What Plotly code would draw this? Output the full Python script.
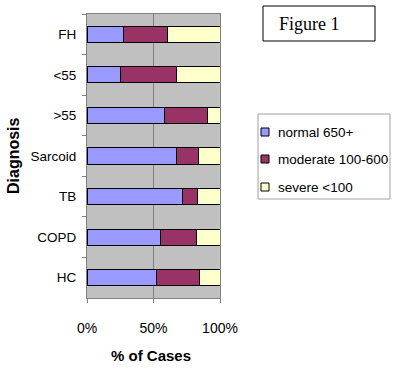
import plotly.graph_objects as go

categories = ["FH", "<55", ">55", "Sarcoid", "TB", "COPD", "HC"]
normal = [27.5, 25.5, 58.0, 67.2, 71.5, 55.0, 52.2]
moderate = [32.7, 42.0, 32.5, 16.5, 11.5, 27.2, 32.3]
severe = [39.8, 32.5, 9.5, 16.3, 17.0, 17.8, 15.5]
series_names = ["normal 650+", "moderate 100-600", "severe <100"]
colors = ["#9999FF", "#993366", "#FFFFCC"]
x_ticks = [0, 50, 100]
x_tick_labels = ["0%", "50%", "100%"]

FONT = "Liberation Sans, Arial, sans-serif"

fig = go.Figure()
for name, vals, col in zip(series_names, [normal, moderate, severe], colors):
    fig.add_trace(go.Bar(
        y=categories, x=vals, name=name, orientation="h",
        marker=dict(color=col, line=dict(color="#000000", width=1)),
        showlegend=False,
    ))

W, H = 400, 371
L, R, T, B = 87, 180, 14, 73
pw = W - L - R
ph = H - T - B

def px_x(p):
    return (p - L) / pw

def px_y(p):
    return 1 - (p - T) / ph

shapes = [
    dict(type="rect", xref="paper", yref="paper",
         x0=px_x(263), x1=px_x(375), y0=px_y(41), y1=px_y(6),
         line=dict(color="black", width=1), fillcolor="white"),
    dict(type="rect", xref="paper", yref="paper",
         x0=px_x(258), x1=px_x(390), y0=px_y(199), y1=px_y(114),
         line=dict(color="#A0A0A0", width=1), fillcolor="white"),
]
annotations = [
    dict(text="Figure 1", xref="paper", yref="paper",
         x=px_x(277), y=px_y(24), xanchor="left", yanchor="middle",
         showarrow=False, font=dict(family="Liberation Serif, Times New Roman, serif", size=18)),
    dict(text="<b>% of Cases</b>", xref="paper", yref="paper",
         x=px_x(151), y=px_y(355), xanchor="center", yanchor="middle",
         showarrow=False, font=dict(family=FONT, size=15)),
    dict(text="<b>Diagnosis</b>", xref="paper", yref="paper",
         x=px_x(13), y=px_y(156), xanchor="center", yanchor="middle",
         textangle=-90, showarrow=False, font=dict(family=FONT, size=16)),
]

# legend (drawn by hand to match the original's compact layout)
leg_y = [132, 159, 187]
for name, col, yy in zip(series_names, colors, leg_y):
    shapes.append(dict(type="rect", xref="paper", yref="paper",
                       x0=px_x(261), x1=px_x(269), y0=px_y(yy + 4), y1=px_y(yy - 4),
                       line=dict(color="black", width=1), fillcolor=col))
    annotations.append(dict(text=name, xref="paper", yref="paper",
                            x=px_x(276), y=px_y(yy), xanchor="left", yanchor="middle",
                            showarrow=False, font=dict(family=FONT, size=13.5)))

fig.update_layout(
    width=W, height=H,
    margin=dict(l=L, r=R, t=T, b=B, pad=0),
    barmode="stack", bargap=0.6,
    paper_bgcolor="white", plot_bgcolor="#C0C0C0",
    font=dict(family=FONT, size=13, color="black"),
    showlegend=False,
    xaxis=dict(
        range=[0, 100], tickvals=x_ticks, ticktext=x_tick_labels,
        showgrid=True, gridcolor="#808080", gridwidth=1,
        showline=True, linecolor="#808080", mirror=True,
        ticks="outside", ticklen=4, tickcolor="#808080",
        ticklabelstandoff=13, zeroline=False, automargin=False,
        tickfont=dict(family=FONT, size=14),
    ),
    yaxis=dict(
        autorange="reversed", showgrid=False,
        showline=True, linecolor="#808080", mirror=True,
        ticks="outside", ticklen=4, tickcolor="#808080",
        tickson="boundaries", ticklabelstandoff=7, automargin=False,
        tickfont=dict(family=FONT, size=13.5),
    ),
    shapes=shapes,
    annotations=annotations,
)

fig.write_html(
    "out.html",
    config={"displayModeBar": False},
    post_script="document.body.style.margin='0';document.body.style.overflow='hidden';",
)
